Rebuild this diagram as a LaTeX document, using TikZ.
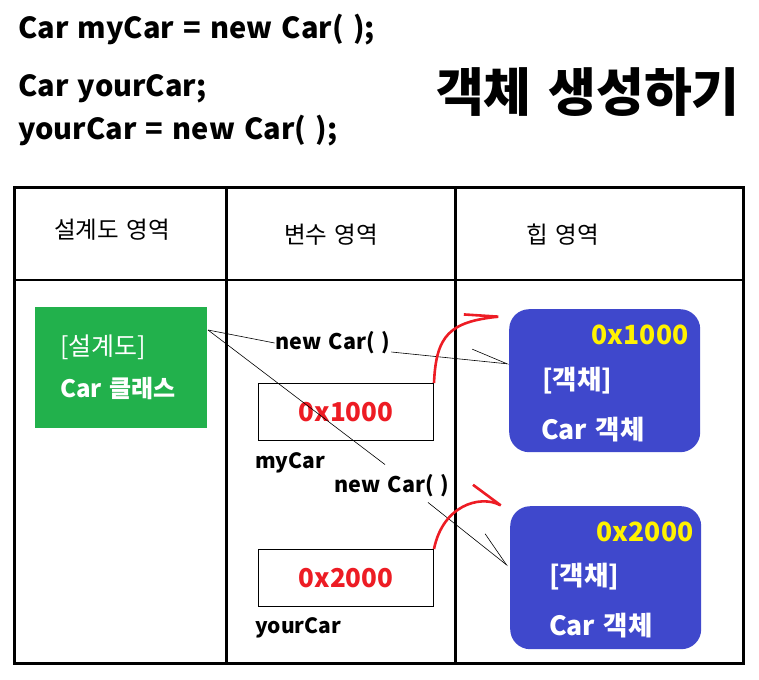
\documentclass[tikz,border=0pt]{standalone}
\usepackage{fontspec}
\setmainfont{Noto Sans CJK KR}[WordSpace=1.4]
\usetikzlibrary{arrows.meta,positioning,calc}

\definecolor{clsgreen}{HTML}{22B14C}
\definecolor{heapblue}{HTML}{3F48CC}
\definecolor{addrred}{HTML}{ED1C24}
\definecolor{addryellow}{HTML}{FFF200}

\tikzset{
  codeline/.style={anchor=base west,inner sep=0pt,font=\bfseries\fontsize{29}{32}\selectfont},
  areahead/.style={font=\fontsize{23.5}{26}\selectfont},
  varbox/.style={draw,line width=1pt,anchor=north west,minimum width=175pt,minimum height=57pt,
    text=addrred,font=\bfseries\fontsize{26}{28}\selectfont},
  varname/.style={anchor=west,inner sep=0pt,font=\bfseries\fontsize{21}{24}\selectfont},
  heapbox/.style={fill=heapblue,rounded corners=20pt,anchor=north west,minimum width=191pt,minimum height=143pt},
  heaptext/.style={text=white,inner sep=0pt,font=\bfseries\fontsize{26.5}{29}\selectfont},
  newlabel/.style={inner sep=1pt,font=\bfseries\fontsize{21.5}{24}\selectfont},
  refline/.style={black,line width=0.6pt},
  refarrow/.style={refline,-{Straight Barb[harpoon,length=36pt,width=22pt,line width=0.6pt]}},
  ptrarrow/.style={addrred,line width=2.6pt,-{Straight Barb[harpoon,length=34pt,width=12pt,line width=2.6pt]}}
}

\begin{document}
\begin{tikzpicture}[x=1pt,y=-1pt]
  \useasboundingbox (0,0) rectangle (759,679);

  % code at the top
  \node[codeline] (line1) at (18,39) {Car myCar = new Car( );};
  \node[codeline] (line2) at (18,97) {Car yourCar;};
  \node[codeline] (line3) at (18,140) {yourCar = new Car( );};
  \node[font=\bfseries\fontsize{52}{56}\selectfont] (title) at (588,92) {객체 생성하기};

  % table
  \draw[line width=3pt] (14,187) rectangle (743,663);
  \draw[line width=3pt] (226,187) -- (226,663);
  \draw[line width=3pt] (455,187) -- (455,663);
  \draw[line width=2.2pt] (14,280) -- (743,280);
  \node[areahead] (headcls) at (112,230) {설계도 영역};
  \node[areahead] (headvar) at (331,235) {변수 영역};
  \node[areahead] (headheap) at (563,235) {힙 영역};

  % class area
  \node[fill=clsgreen,anchor=north west,minimum width=172pt,minimum height=121pt] (cls) at (35,307) {};
  \node[text=white,anchor=west,inner sep=0pt,font=\fontsize{25}{28}\selectfont] at ($(cls.north west)+(25,40)$) {[설계도]};
  \node[text=white,anchor=west,inner sep=0pt,font=\bfseries\fontsize{24}{27}\selectfont] at ($(cls.north west)+(25,81)$) {Car 클래스};
  \coordinate (clsout) at (208,330);

  % variable area
  \node[varbox] (my) at (258,383) {0x1000};
  \node[varname] (myname) at (255,463) {myCar};
  \node[varbox] (your) at (258,549) {0x2000};
  \node[varname] (yourname) at (255,628) {yourCar};

  % heap area
  \node[heapbox] (heap1) at (509,309) {};
  \node[heaptext,text=addryellow] at ($(heap1.north west)+(131,26)$) {0x1000};
  \node[heaptext,anchor=west] at ($(heap1.north west)+(33,72)$) {[객채]};
  \node[heaptext,anchor=west] at ($(heap1.north west)+(32,121)$) {Car 객체};
  \node[heapbox] (heap2) at (510,506) {};
  \node[heaptext,text=addryellow] at ($(heap2.north west)+(135,26)$) {0x2000};
  \node[heaptext,anchor=west] at ($(heap2.north west)+(39,71)$) {[객채]};
  \node[heaptext,anchor=west] at ($(heap2.north west)+(39,120)$) {Car 객체};

  % new Car( ) labels
  \node[newlabel] (new1) at (333,343) {new Car( )};
  \node[newlabel] (new2) at (392,486) {new Car( )};

  % references
  \draw[refline] (clsout) -- (new1.west);
  \draw[refarrow] ($(new1.east)+(0,9)$) -- ($(heap1.north west)+(0,55)$);
  \draw[refline] (clsout) -- ($(new2.north)+(-7,-9)$);
  \draw[refarrow] ($(new2.south)+(36,4)$) -- ($(heap2.north west)+(-2,60)$);

  % pointers
  \draw[ptrarrow] (my.north east) .. controls (436,335) and (450,322) .. ($(heap1.north west)+(4,6)$);
  \draw[ptrarrow] (your.north east) .. controls (443,505) and (480,495) .. ($(heap2.north west)+(4,6)$);
\end{tikzpicture}
\end{document}
